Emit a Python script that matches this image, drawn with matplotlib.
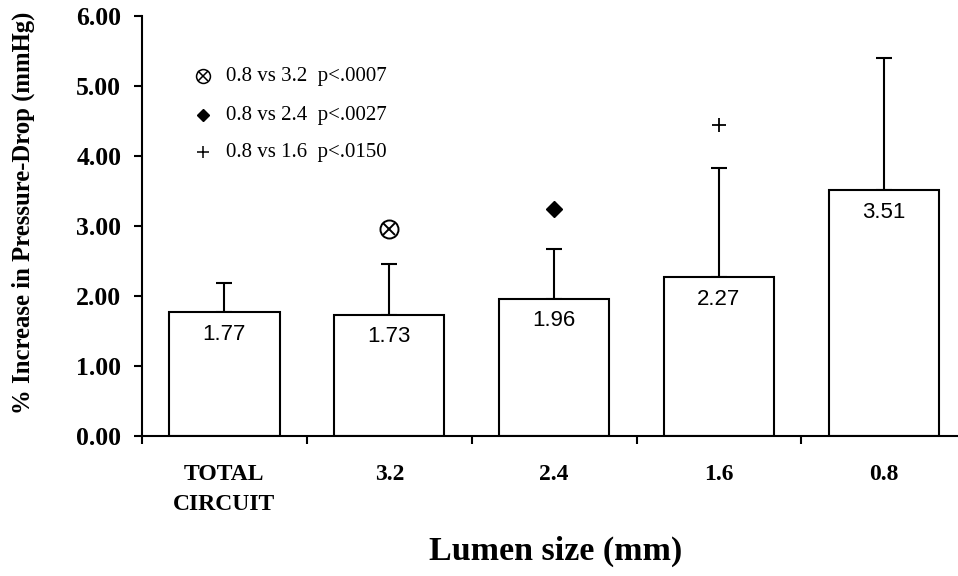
import numpy as np
import matplotlib
matplotlib.use("Agg")
import matplotlib.pyplot as plt

# values
categories = ["TOTAL\nCIRCUIT", "3.2", "2.4", "1.6", "0.8"]
means = [1.77, 1.73, 1.96, 2.27, 3.51]
upper_err = [0.42, 0.73, 0.71, 1.56, 1.89]
value_labels = ["1.77", "1.73", "1.96", "2.27", "3.51"]

# significance markers above bars (category index, y value)
sig_cross_pos = (1, 2.96)
sig_diamond_pos = (2, 3.24)
sig_plus_pos = (3, 4.44)

legend_rows = ["0.8 vs 3.2  p<.0007", "0.8 vs 2.4  p<.0027", "0.8 vs 1.6  p<.0150"]
yticks = [0, 1, 2, 3, 4, 5, 6]

serif = "Liberation Serif"
sans = "Liberation Sans"

fig = plt.figure(figsize=(9.58, 5.76), dpi=100)
ax = fig.add_axes([142 / 958, 1 - 436 / 576, 1 - 142 / 958, 420 / 576])

x = np.arange(len(categories))
ax.bar(x, means, width=0.67, color="white", edgecolor="black", linewidth=1.5, zorder=2)
ax.errorbar(x, means, yerr=[np.zeros(len(means)), upper_err], fmt="none",
            ecolor="black", elinewidth=1.5, capsize=6, capthick=1.5, zorder=1)

for xi, m, lab in zip(x, means, value_labels):
    ax.annotate(lab, (xi, m), xytext=(0, -22), textcoords="offset pixels",
                ha="center", va="center", fontsize=16, family=sans)

# significance markers
ax.plot(*sig_cross_pos, marker="o", ms=13, mfc="none", mec="black", mew=1.4, zorder=3)
ax.plot(*sig_cross_pos, marker="x", ms=8.5, mec="black", mew=1.4, zorder=3)
ax.plot(*sig_diamond_pos, marker="D", ms=8, color="black", zorder=3)
ax.plot(*sig_plus_pos, marker="+", ms=10, mec="black", mew=1.3, zorder=3)

# legend block in the top-left
rows_y = [0.857, 0.764, 0.676]
sx, tx = 0.075, 0.103
ax.plot(sx, rows_y[0], marker="o", ms=10, mfc="none", mec="black", mew=1.1,
        transform=ax.transAxes, clip_on=False)
ax.plot(sx, rows_y[0], marker="x", ms=6.5, mec="black", mew=1.1,
        transform=ax.transAxes, clip_on=False)
ax.plot(sx, rows_y[1], marker="D", ms=6.5, color="black",
        transform=ax.transAxes, clip_on=False)
ax.plot(sx, rows_y[2], marker="+", ms=9, mec="black", mew=1.1,
        transform=ax.transAxes, clip_on=False)
for ry, txt in zip(rows_y, legend_rows):
    ax.text(tx, ry, txt, transform=ax.transAxes, ha="left", va="center",
            fontsize=15, family=serif)

ax.set_xlim(-0.5, 4.45)
ax.set_ylim(0, 6)

ax.set_yticks(yticks)
ax.set_yticklabels([f"{v:.2f}" for v in yticks], fontsize=18.5, family=serif, fontweight="bold")
ax.tick_params(axis="y", direction="out", length=6, width=1.5, pad=9)

ax.set_xticks(x)
ax.set_xticklabels(categories, fontsize=17, family=serif, fontweight="bold",
                   linespacing=1.55, va="top")
ax.set_xticks(np.arange(-0.5, 4.5, 1.0), minor=True)
ax.tick_params(axis="x", which="major", length=0, pad=20)
ax.tick_params(axis="x", which="minor", direction="out", length=6, width=1.5)

for side in ["top", "right"]:
    ax.spines[side].set_visible(False)
for side in ["left", "bottom"]:
    ax.spines[side].set_linewidth(1.5)

fig.text(23 / 958, 1 - 213 / 576, "% Increase in Pressure-Drop (mmHg)", rotation=90,
         ha="center", va="center", fontsize=17.8, family=serif, fontweight="bold")
fig.text(556 / 958, 1 - 551 / 576, "Lumen size (mm)", ha="center", va="center",
         fontsize=24.5, family=serif, fontweight="bold")

fig.savefig("out.png", dpi=100)
